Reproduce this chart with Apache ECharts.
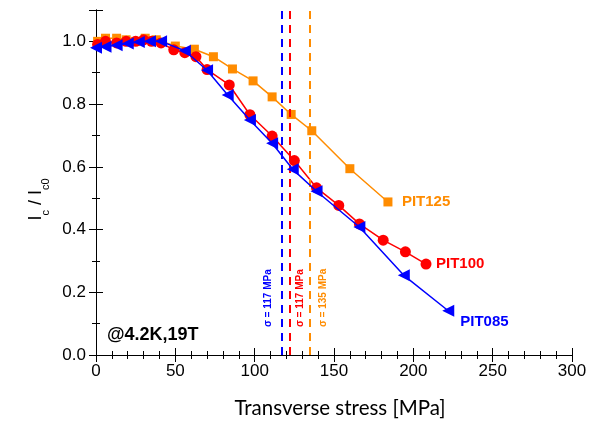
<!DOCTYPE html>
<html>
<head>
<meta charset="utf-8">
<script src="https://cdn.jsdelivr.net/npm/echarts@6.0.0/dist/echarts.min.js"></script>
<style>html,body{margin:0;padding:0;background:#fff}#c{width:610px;height:424px}</style>
</head>
<body>
<div id="c"></div>
<script>
// ---- data ----
const pit125X = [1, 6, 13, 19, 25, 31, 38, 50, 62, 74, 86, 99, 111, 123, 136, 160, 184];
const pit125Y = [1.0, 1.01, 1.01, 1.005, 1.0, 1.01, 1.005, 0.985, 0.975, 0.951, 0.912, 0.874, 0.823, 0.767, 0.715, 0.594, 0.488];
const pit100X = [1, 6, 13, 19, 25, 30, 35, 41, 49, 56, 63, 70, 84, 97, 111, 125, 139, 153, 166, 181, 195, 208];
const pit100Y = [0.99, 1.0, 0.995, 1.0, 1.0, 1.005, 1.0, 0.995, 0.973, 0.964, 0.951, 0.91, 0.861, 0.766, 0.698, 0.62, 0.533, 0.477, 0.418, 0.366, 0.329, 0.29];
const pit085X = [0, 6, 13, 20, 27, 34, 41, 56, 70, 83, 97, 111, 124, 139, 166, 194, 222];
const pit085Y = [0.98, 0.983, 0.988, 0.993, 0.998, 1.0, 1.0, 0.97, 0.908, 0.829, 0.749, 0.675, 0.592, 0.522, 0.408, 0.254, 0.141];
const seriesNames = ['PIT125', 'PIT100', 'PIT085'];
const limitStress = [135, 122, 117];
const limitLabels = ['σ = 135 MPa', 'σ = 117 MPa', 'σ = 117 MPa'];
const xTicks = [0, 50, 100, 150, 200, 250, 300];
const yTicks = [0.0, 0.2, 0.4, 0.6, 0.8, 1.0];
const conditionText = '@4.2K,19T';

const colors = ['#ff8c00', '#ff0000', '#0000ff'];
const zip = (a, b) => a.map((v, i) => [v, b[i]]);

const chart = echarts.init(document.getElementById('c'), null, {renderer: 'canvas'});

function markLineFor(i, pos, dist) {
  return {
    silent: true,
    symbol: 'none',
    animation: false,
    lineStyle: {color: colors[i], type: [8, 6], width: 2},
    label: {
      show: true, formatter: limitLabels[i], position: pos, distance: dist,
      color: colors[i], fontSize: 10, fontWeight: 'bold', fontFamily: 'Liberation Sans'
    },
    data: [{xAxis: limitStress[i]}]
  };
}

const baseAxisLine = {show: true, lineStyle: {color: '#000', width: 1}};

chart.setOption({
  animation: false,
  backgroundColor: '#fff',
  title: {
    text: conditionText, left: 107, top: 326, padding: 0,
    textStyle: {fontSize: 18, fontWeight: 'bold', color: '#000', fontFamily: 'Liberation Sans'}
  },
  grid: {left: 96, right: 38, top: 10, bottom: 68, containLabel: false},
  xAxis: [{
    type: 'value', min: xTicks[0], max: xTicks[xTicks.length - 1], interval: 50,
    name: 'Transverse stress [MPa]', nameLocation: 'middle', nameGap: 43,
    nameTextStyle: {fontSize: 20.5, color: '#000', fontFamily: 'Lato', padding: [0, 0, 0, 12]},
    axisLine: baseAxisLine,
    axisTick: {show: true, inside: true, length: 7, lineStyle: {color: '#000'}},
    minorTick: {show: true, splitNumber: 5, length: 4, lineStyle: {color: '#000'}},
    axisLabel: {fontSize: 17, color: '#000', fontFamily: 'Liberation Sans', margin: 8},
    splitLine: {show: false}
  }, {
    type: 'value', position: 'top', min: 0, max: 300, interval: 50,
    axisLine: baseAxisLine,
    axisTick: {show: true, inside: true, length: 7, lineStyle: {color: '#000'}},
    minorTick: {show: true, splitNumber: 5, length: 4, lineStyle: {color: '#000'}},
    axisLabel: {show: false}, splitLine: {show: false}
  }],
  yAxis: [{
    type: 'value', min: 0, max: 1.1, interval: 0.2,
    name: '{a|I}{s|c}{a| / I}{s|c0}', nameLocation: 'middle', nameGap: 50,
    nameTextStyle: {
      padding: [0, 34, 0, 0],
      rich: {
        a: {fontSize: 18, color: '#000', fontFamily: 'Liberation Sans', verticalAlign: 'bottom'},
        s: {fontSize: 11, color: '#000', fontFamily: 'Liberation Sans', verticalAlign: 'bottom', padding: [0, 0, -6, 0]}
      }
    },
    axisLine: baseAxisLine,
    axisTick: {show: true, inside: true, length: 7, lineStyle: {color: '#000'}},
    minorTick: {show: true, splitNumber: 2, length: 4, lineStyle: {color: '#000'}},
    axisLabel: {fontSize: 17, color: '#000', fontFamily: 'Liberation Sans', margin: 10, showMaxLabel: false,
      formatter: v => yTicks.some(t => Math.abs(t - v) < 1e-9) ? v.toFixed(1) : ''},
    splitLine: {show: false}
  }, {
    type: 'value', position: 'right', min: 0, max: 1.1, interval: 0.2,
    axisLine: baseAxisLine,
    axisTick: {show: true, inside: true, length: 7, lineStyle: {color: '#000'}},
    minorTick: {show: true, splitNumber: 2, length: 4, lineStyle: {color: '#000'}},
    axisLabel: {show: false}, splitLine: {show: false}
  }],
  series: [
    {
      name: seriesNames[0], type: 'line', data: zip(pit125X, pit125Y),
      symbol: 'rect', symbolSize: 9, itemStyle: {color: colors[0]},
      lineStyle: {color: colors[0], width: 1.5},
      endLabel: {show: true, formatter: '{a}', color: colors[0], fontSize: 15, fontWeight: 'bold',
        fontFamily: 'Liberation Sans', distance: 14},
      markLine: markLineFor(0, 'insideStartBottom', [28, 8]),
      z: 3
    },
    {
      name: seriesNames[1], type: 'line', data: zip(pit100X, pit100Y),
      symbol: 'circle', symbolSize: 11, itemStyle: {color: colors[1]},
      lineStyle: {color: colors[1], width: 1.5},
      endLabel: {show: true, formatter: '{a}', color: colors[1], fontSize: 15, fontWeight: 'bold',
        fontFamily: 'Liberation Sans', distance: 10},
      markLine: markLineFor(1, 'insideStartBottom', [28, 6]),
      z: 4
    },
    {
      name: seriesNames[2], type: 'line', data: zip(pit085X, pit085Y),
      symbol: 'triangle', symbolSize: 12, symbolRotate: 90, itemStyle: {color: colors[2]},
      lineStyle: {color: colors[2], width: 1.5},
      endLabel: {show: true, formatter: '{a}', color: colors[2], fontSize: 15, fontWeight: 'bold',
        fontFamily: 'Liberation Sans', distance: 12, offset: [0, 11]},
      markLine: markLineFor(2, 'insideStartTop', [28, 8]),
      z: 5
    }
  ]
});
</script>
</body>
</html>
